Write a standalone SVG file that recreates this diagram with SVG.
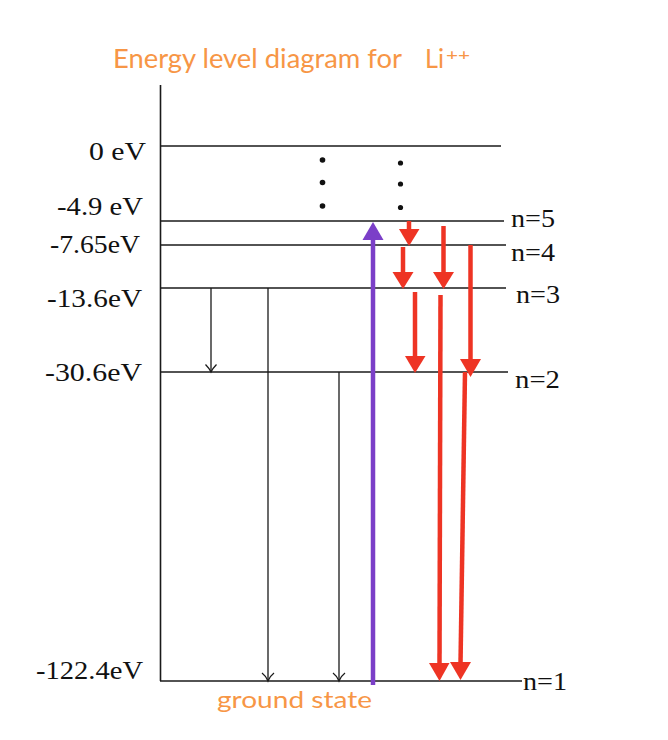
<svg xmlns="http://www.w3.org/2000/svg" width="668" height="740" viewBox="0 0 668 740">
<defs>
<style>
.lvl{stroke:#1a1a1a;stroke-width:1.6;fill:none}
.blk{stroke:#1a1a1a;stroke-width:1.3;fill:none}
.vh{stroke:#1a1a1a;stroke-width:1.3;fill:none}
.red{stroke:#EE3424;stroke-width:4.5;fill:none}
.redh{fill:#EE3424}
.pur{stroke:#7B3FC8;stroke-width:4.5;fill:none}
.purh{fill:#7B3FC8}
.lab{font-family:"Liberation Serif","Times New Roman",serif;font-size:26px;fill:#111}
.org{font-family:Lato,"Liberation Sans",sans-serif;fill:#F79646}
.dot{fill:#111}
</style>
</defs>
<rect width="668" height="740" fill="#fff"/>

<g id="title">
<text class="org" x="113" y="68" font-size="27.5" textLength="289" lengthAdjust="spacingAndGlyphs">Energy level diagram for</text>
<text class="org" x="425" y="68" font-size="27.5" textLength="19" lengthAdjust="spacingAndGlyphs">Li</text>
<text class="org" x="446" y="60" font-size="16" textLength="24" lengthAdjust="spacingAndGlyphs">++</text>
</g>

<g id="axis">
<line class="lvl" x1="160.5" y1="85" x2="160.5" y2="681"/>
</g>

<g id="level-0">
<line class="lvl" x1="160" y1="146" x2="501" y2="146"/>
<text class="lab" x="89" y="160" textLength="57" lengthAdjust="spacingAndGlyphs">0 eV</text>
</g>
<g id="level-n5">
<line class="lvl" x1="160" y1="221" x2="504" y2="221"/>
<text class="lab" x="57" y="215" textLength="86" lengthAdjust="spacingAndGlyphs">-4.9 eV</text>
<text class="lab" x="511" y="227" textLength="44" lengthAdjust="spacingAndGlyphs">n=5</text>
</g>
<g id="level-n4">
<line class="lvl" x1="160" y1="245" x2="506" y2="245"/>
<text class="lab" x="50" y="253" textLength="90" lengthAdjust="spacingAndGlyphs">-7.65eV</text>
<text class="lab" x="511" y="261" textLength="44" lengthAdjust="spacingAndGlyphs">n=4</text>
</g>
<g id="level-n3">
<line class="lvl" x1="160" y1="288" x2="506" y2="288"/>
<text class="lab" x="47" y="307" textLength="95" lengthAdjust="spacingAndGlyphs">-13.6eV</text>
<text class="lab" x="516" y="303" textLength="44" lengthAdjust="spacingAndGlyphs">n=3</text>
</g>
<g id="level-n2">
<line class="lvl" x1="160" y1="372" x2="508" y2="372"/>
<text class="lab" x="45" y="381" textLength="97" lengthAdjust="spacingAndGlyphs">-30.6eV</text>
<text class="lab" x="515" y="388" textLength="45" lengthAdjust="spacingAndGlyphs">n=2</text>
</g>
<g id="level-n1">
<line class="lvl" x1="160" y1="681" x2="522" y2="681"/>
<text class="lab" x="36" y="679" textLength="107" lengthAdjust="spacingAndGlyphs">-122.4eV</text>
<text class="lab" x="523" y="690" textLength="44" lengthAdjust="spacingAndGlyphs">n=1</text>
<text class="org" x="217" y="708" font-size="23.5" textLength="155" lengthAdjust="spacingAndGlyphs">ground state</text>
</g>

<g id="dots">
<circle class="dot" cx="322.5" cy="160" r="2.8"/>
<circle class="dot" cx="322.5" cy="182.5" r="2.8"/>
<circle class="dot" cx="322.5" cy="206" r="2.8"/>
<circle class="dot" cx="400.5" cy="163" r="2.6"/>
<circle class="dot" cx="400.5" cy="184" r="2.6"/>
<circle class="dot" cx="400.5" cy="207.5" r="2.6"/>
</g>

<g id="connectors">
<line class="blk" x1="211" y1="288" x2="211" y2="372"/>
<path class="vh" d="M205.5,364.5 Q209,368 211,372 Q213,368 216.5,364.5"/>
<line class="blk" x1="268" y1="288" x2="268" y2="681"/>
<path class="vh" d="M262,673 Q266,676 268,681 Q270,676 274,673"/>
<line class="blk" x1="339" y1="372" x2="339" y2="681"/>
<path class="vh" d="M333,673 Q337,676 339,681 Q341,676 345,673"/>

<line class="pur" x1="373" y1="685" x2="373" y2="236"/>
<polygon class="purh" points="373,222 383.5,240 362.5,240"/>

<line class="red" x1="409" y1="221" x2="409" y2="231"/>
<polygon class="redh" points="399,229 419.5,229 409,246"/>

<line class="red" x1="403" y1="247" x2="403" y2="274"/>
<polygon class="redh" points="392.5,272 413.5,272 403,289"/>

<line class="red" x1="443.5" y1="226" x2="443.5" y2="274"/>
<polygon class="redh" points="433,272 454,272 443.5,289"/>

<line class="red" x1="415" y1="292" x2="415" y2="358"/>
<polygon class="redh" points="405,356 425.5,356 415,373"/>

<line class="red" x1="470.5" y1="245" x2="470.5" y2="361"/>
<polygon class="redh" points="460,359 481,359 470.5,377"/>

<line class="red" x1="440.5" y1="295" x2="439.5" y2="665"/>
<polygon class="redh" points="429,663 449.5,663 439.5,681"/>

<line class="red" x1="465" y1="372" x2="460.5" y2="664"/>
<polygon class="redh" points="450,662 471,662 460.5,680"/>
</g>
</svg>
